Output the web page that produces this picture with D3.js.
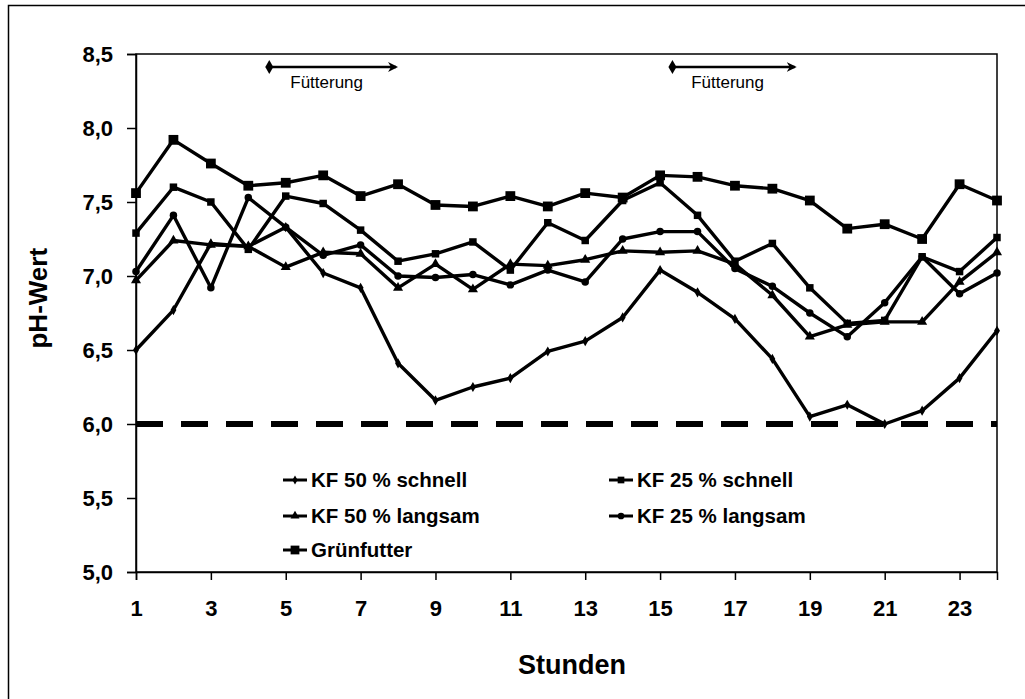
<!DOCTYPE html>
<html>
<head>
<meta charset="utf-8">
<script src="https://cdn.jsdelivr.net/npm/d3@7"></script>
<style>
  body { margin: 0; background: #fff; }
  text { font-family: "Liberation Sans", Arial, sans-serif; fill: #000; }
</style>
</head>
<body>
<svg id="chart" width="1025" height="699"></svg>
<script>
// hours of the day (categories)
var hours = [1,2,3,4,5,6,7,8,9,10,11,12,13,14,15,16,17,18,19,20,21,22,23,24];
var xTicks = [1,3,5,7,9,11,13,15,17,19,21,23];
var yTicks = [5.0,5.5,6.0,6.5,7.0,7.5,8.0,8.5];
var threshold = 6.0;

var kf50schnell = [6.50,6.77,7.22,7.20,7.33,7.02,6.92,6.41,6.16,6.25,6.31,6.49,6.56,6.72,7.04,6.89,6.71,6.44,6.05,6.13,6.00,6.09,6.31,6.63];
var kf25schnell = [7.29,7.60,7.50,7.18,7.54,7.49,7.31,7.10,7.15,7.23,7.04,7.36,7.24,7.51,7.63,7.41,7.10,7.22,6.92,6.68,6.70,7.13,7.03,7.26];
var kf50langsam = [6.97,7.24,7.21,7.20,7.06,7.16,7.15,6.92,7.08,6.91,7.08,7.07,7.11,7.17,7.16,7.17,7.08,6.87,6.59,6.67,6.69,6.69,6.96,7.16];
var kf25langsam = [7.03,7.41,6.92,7.53,7.33,7.14,7.21,7.00,6.99,7.01,6.94,7.04,6.96,7.25,7.30,7.30,7.05,6.93,6.75,6.59,6.82,7.13,6.88,7.02];
var gruenfutter = [7.56,7.92,7.76,7.61,7.63,7.68,7.54,7.62,7.48,7.47,7.54,7.47,7.56,7.53,7.68,7.67,7.61,7.59,7.51,7.32,7.35,7.25,7.62,7.51];

var seriesNames = ["KF 50 % schnell","KF 25 % schnell","KF 50 % langsam","KF 25 % langsam","Grünfutter"];
var seriesValues = [kf50schnell, kf25schnell, kf50langsam, kf25langsam, gruenfutter];

// feeding periods (start hour, end hour)
var feedings = [[4.56, 8.0], [15.33, 18.65]];
var feedingLabel = "Fütterung";

var symbols = [
  {type: d3.symbolDiamond, size: 30},
  {type: d3.symbolSquare, size: 56},
  {type: d3.symbolTriangle, size: 44},
  {type: d3.symbolCircle, size: 44},
  {type: d3.symbolSquare, size: 96}
];

var svg = d3.select("#chart");

// outer chart frame
svg.append("rect")
  .attr("x", 8.5).attr("y", 5.5)
  .attr("width", 1040).attr("height", 720)
  .attr("fill", "none").attr("stroke", "#000").attr("stroke-width", 1.5);

var plotL = 136, plotR = 997, plotT = 54, plotB = 572;

var x = d3.scaleLinear().domain([1, 24]).range([plotL, plotR]);
var y = d3.scaleLinear().domain([5, 8.5]).range([plotB, plotT]);

// plot area border
svg.append("rect")
  .attr("x", plotL).attr("y", plotT)
  .attr("width", plotR - plotL).attr("height", plotB - plotT)
  .attr("fill", "none").attr("stroke", "#000").attr("stroke-width", 1.5);

// y axis
var yAxis = svg.append("g")
  .attr("transform", "translate(" + plotL + ",0)")
  .call(d3.axisLeft(y).tickValues(yTicks).tickSize(9).tickPadding(14)
    .tickFormat(function(d){ return d3.format(".1f")(d).replace(".", ","); }));
yAxis.select(".domain").attr("stroke-width", 1.5);
yAxis.selectAll(".tick line").attr("stroke-width", 1.5);
yAxis.selectAll(".tick text")
  .style("font-size", "22px").style("font-weight", "bold")
  .style("font-family", "Liberation Sans, Arial, sans-serif");

// x axis
var xAxis = svg.append("g")
  .attr("transform", "translate(0," + plotB + ")")
  .call(d3.axisBottom(x).tickValues(xTicks).tickSize(8).tickPadding(20).tickFormat(d3.format("d")));
xAxis.select(".domain").attr("stroke-width", 1.5);
xAxis.selectAll(".tick line").attr("stroke-width", 1.5);
xAxis.selectAll(".tick text")
  .style("font-size", "22px").style("font-weight", "bold")
  .style("font-family", "Liberation Sans, Arial, sans-serif");

// axis titles
svg.append("text")
  .attr("transform", "translate(47," + y(6.85) + ") rotate(-90)")
  .attr("text-anchor", "middle")
  .style("font-size", "26px").style("font-weight", "bold")
  .text("pH-Wert");

svg.append("text")
  .attr("x", 572).attr("y", 674)
  .attr("text-anchor", "middle")
  .style("font-size", "27px").style("font-weight", "bold")
  .text("Stunden");

// threshold line
svg.append("line")
  .attr("x1", x(1)).attr("x2", x(24))
  .attr("y1", y(threshold)).attr("y2", y(threshold))
  .attr("stroke", "#000").attr("stroke-width", 6)
  .attr("stroke-dasharray", "27,18");

// series lines + markers
var line = d3.line()
  .x(function(d, i){ return x(hours[i]); })
  .y(function(d){ return y(d); });

seriesValues.forEach(function(vals, s){
  var g = svg.append("g");
  g.append("path")
    .attr("d", line(vals))
    .attr("fill", "none").attr("stroke", "#000")
    .attr("stroke-width", 3.4).attr("stroke-linejoin", "round");
  g.selectAll("path.m")
    .data(vals)
    .enter().append("path")
    .attr("class", "m")
    .attr("d", d3.symbol().type(symbols[s].type).size(symbols[s].size))
    .attr("transform", function(d, i){ return "translate(" + x(hours[i]) + "," + y(d) + ")"; })
    .attr("fill", "#000");
});

// feeding arrows
var defs = svg.append("defs");
defs.append("marker")
  .attr("id", "head").attr("viewBox", "0 0 10 10")
  .attr("refX", 8).attr("refY", 5)
  .attr("markerWidth", 4).attr("markerHeight", 4)
  .attr("orient", "auto")
  .append("path").attr("d", "M0,0 L10,5 L0,10 L3,5 Z").attr("fill", "#000");

feedings.forEach(function(f){
  var x0 = x(f[0]), x1 = x(f[1]), ay = 67;
  svg.append("line")
    .attr("x1", x0).attr("x2", x1 - 2)
    .attr("y1", ay).attr("y2", ay)
    .attr("stroke", "#000").attr("stroke-width", 2.5)
    .attr("marker-end", "url(#head)");
  svg.append("path")
    .attr("d", "M" + x0 + "," + (ay - 7) + " L" + (x0 + 4) + "," + ay + " L" + x0 + "," + (ay + 7) + " L" + (x0 - 4) + "," + ay + " Z")
    .attr("fill", "#000");
  svg.append("text")
    .attr("x", (x0 + x1) / 2 - 7).attr("y", 88)
    .attr("text-anchor", "middle")
    .style("font-size", "17px")
    .text(feedingLabel);
});

// legend
var legendPos = [[283, 480], [609, 480], [283, 516], [609, 516], [283, 550]];
seriesNames.forEach(function(name, s){
  var p = legendPos[s];
  var g = svg.append("g").attr("transform", "translate(" + p[0] + "," + p[1] + ")");
  g.append("line").attr("x1", 0).attr("x2", 24).attr("y1", 0).attr("y2", 0)
    .attr("stroke", "#000").attr("stroke-width", 3);
  g.append("path")
    .attr("d", d3.symbol().type(symbols[s].type).size(symbols[s].size * 0.8))
    .attr("transform", "translate(12,0)").attr("fill", "#000");
  g.append("text")
    .attr("x", 28).attr("y", 7)
    .style("font-size", "20.5px").style("font-weight", "bold")
    .text(name);
});
</script>
</body>
</html>
